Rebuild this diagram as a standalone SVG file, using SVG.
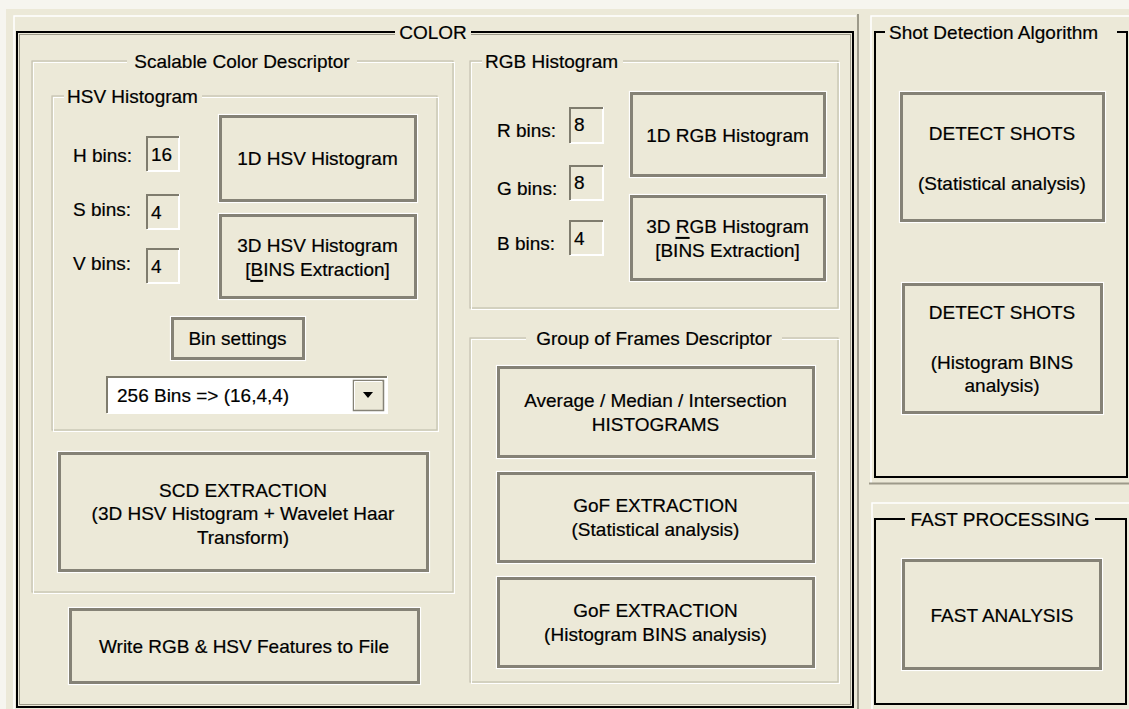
<svg xmlns="http://www.w3.org/2000/svg" width="1129" height="709" viewBox="0 0 1129 709">
<style>
text{font-family:"Liberation Sans",Arial,sans-serif;font-size:19px;fill:#000;stroke:#000;stroke-width:0.2;dominant-baseline:central}
.c{text-anchor:middle}
.tb{fill:#ECE9D8}
.eg{fill:none;stroke:#C4C1B0;stroke-width:1.2}
.ew{fill:none;stroke:#FFFFFF;stroke-width:1}
.bk{fill:none;stroke:#000;stroke-width:2}
.bki{fill:none;stroke:#9D9A8A;stroke-width:1}
.bo{fill:none;stroke:#FFFFFF;stroke-width:1.2}
.bm{fill:#ECE9D8;stroke:#858276;stroke-width:3}
.sd{stroke:#7F7C6E;stroke-width:2;fill:none}
.sl{stroke:#FFFFFF;stroke-width:2;fill:none}
</style>
<rect x="0" y="0" width="1129" height="709" fill="#F6F5EF"/>
<rect x="6" y="9" width="1123" height="700" fill="#ECE9D8"/>
<g id="panels">
<path d="M14 709 V16 H856" stroke="#FFFFFF" stroke-width="1.5" fill="none"/>
<line x1="858" y1="14" x2="858" y2="709" stroke="#9D9A8A" stroke-width="2"/>
<path d="M871 483 V16 H1129" stroke="#FFFFFF" stroke-width="1.5" fill="none"/>
<line x1="869" y1="483.5" x2="1129" y2="483.5" stroke="#9D9A8A" stroke-width="2"/>
<path d="M872 709 V503 H1129" stroke="#FFFFFF" stroke-width="1.5" fill="none"/>
</g>

<g id="color-group">
<rect class="bk" x="17" y="32" width="836" height="675"/>
<rect class="bki" x="19.5" y="34.5" width="831" height="670"/>
<rect class="tb" x="395" y="26" width="76" height="12"/>
<text class="c" x="433" y="32">COLOR</text>
</g>

<g id="scd-group">
<rect class="eg" x="32" y="61" width="421" height="531"/>
<rect class="ew" x="33.5" y="62.5" width="421" height="531"/>
<rect class="tb" x="127" y="56" width="230" height="10"/>
<text class="c" x="242" y="61">Scalable Color Descriptor</text>
</g>

<g id="hsv-group">
<rect class="eg" x="52" y="96" width="385" height="334"/>
<rect class="ew" x="53.5" y="97.5" width="385" height="334"/>
<rect class="tb" x="64" y="91" width="138" height="10"/>
<text x="67" y="96">HSV Histogram</text>
</g>

<g id="h-bins">
<text x="73" y="155">H bins:</text>
<rect class="tb" x="147" y="136" width="32" height="35"/>
<path class="sl" d="M147 171 H179 V136"/>
<path class="sd" d="M147 171 V137 H179"/>
<text x="151" y="154">16</text>
</g>
<g id="s-bins">
<text x="73" y="209">S bins:</text>
<rect class="tb" x="147" y="194" width="32" height="35"/>
<path class="sl" d="M147 229 H179 V194"/>
<path class="sd" d="M147 229 V195 H179"/>
<text x="151" y="212">4</text>
</g>
<g id="v-bins">
<text x="73" y="263">V bins:</text>
<rect class="tb" x="147" y="248" width="32" height="35"/>
<path class="sl" d="M147 283 H179 V248"/>
<path class="sd" d="M147 283 V249 H179"/>
<text x="151" y="266">4</text>
</g>

<g id="btn-1d-hsv">
<rect class="bo" x="218.5" y="114.5" width="199" height="88"/>
<rect class="bm" x="220.5" y="116.5" width="195" height="84"/>
<text class="c" x="317.5" y="158">1D HSV Histogram</text>
</g>
<g id="btn-3d-hsv">
<rect class="bo" x="218.5" y="213.5" width="199" height="86"/>
<rect class="bm" x="220.5" y="215.5" width="195" height="82"/>
<text class="c" x="317.5" y="245">3D HSV Histogram</text>
<text class="c" x="317.5" y="269">[<tspan style="text-decoration:underline">B</tspan>INS Extraction]</text>
</g>
<g id="btn-bin-settings">
<rect class="bo" x="170.5" y="316.5" width="135" height="44"/>
<rect class="bm" x="172.5" y="318.5" width="131" height="40"/>
<text class="c" x="237.5" y="338">Bin settings</text>
</g>
<g id="combo">
<rect x="108" y="377" width="279" height="36" fill="#FFFFFF"/>
<path class="sl" d="M107 413 H387 V376"/>
<path class="sd" d="M107 413 V377 H387"/>
<rect x="353.5" y="380.5" width="30" height="30" fill="#ECE9D8" stroke="#858276" stroke-width="1.5"/>
<path d="M354.5 409.5 V381.5 H382" stroke="#FFFFFF" stroke-width="1" fill="none"/>
<polygon points="363,392 373,392 368,398" fill="#000"/>
<text x="117" y="395">256 Bins =&gt; (16,4,4)</text>
</g>
<g id="btn-scd">
<rect class="bo" x="57.5" y="451.5" width="372" height="121"/>
<rect class="bm" x="59.5" y="453.5" width="368" height="117"/>
<text class="c" x="243" y="490">SCD EXTRACTION</text>
<text class="c" x="243" y="513">(3D HSV Histogram + Wavelet Haar</text>
<text class="c" x="243" y="537">Transform)</text>
</g>
<g id="btn-write">
<rect class="bo" x="68.5" y="607.5" width="352" height="77"/>
<rect class="bm" x="70.5" y="609.5" width="348" height="73"/>
<text class="c" x="244" y="646">Write RGB &amp; HSV Features to File</text>
</g>

<g id="rgb-group">
<rect class="eg" x="470" y="61" width="368" height="247"/>
<rect class="ew" x="471.5" y="62.5" width="368" height="247"/>
<rect class="tb" x="482" y="56" width="141" height="10"/>
<text x="485" y="61">RGB Histogram</text>
</g>
<g id="r-bins">
<text x="497" y="130">R bins:</text>
<rect class="tb" x="570" y="107" width="33" height="36"/>
<path class="sl" d="M570 143 H603 V107"/>
<path class="sd" d="M570 143 V108 H603"/>
<text x="574" y="124">8</text>
</g>
<g id="g-bins">
<text x="497" y="188">G bins:</text>
<rect class="tb" x="570" y="165" width="33" height="35"/>
<path class="sl" d="M570 200 H603 V165"/>
<path class="sd" d="M570 200 V166 H603"/>
<text x="574" y="182">8</text>
</g>
<g id="b-bins">
<text x="497" y="243">B bins:</text>
<rect class="tb" x="570" y="220" width="33" height="35"/>
<path class="sl" d="M570 255 H603 V220"/>
<path class="sd" d="M570 255 V221 H603"/>
<text x="574" y="238">4</text>
</g>
<g id="btn-1d-rgb">
<rect class="bo" x="629.5" y="91.5" width="197" height="86"/>
<rect class="bm" x="631.5" y="93.5" width="193" height="82"/>
<text class="c" x="727.5" y="135">1D RGB Histogram</text>
</g>
<g id="btn-3d-rgb">
<rect class="bo" x="629.5" y="194.5" width="197" height="87"/>
<rect class="bm" x="631.5" y="196.5" width="193" height="83"/>
<text class="c" x="727.5" y="226">3D <tspan style="text-decoration:underline">R</tspan>GB Histogram</text>
<text class="c" x="727.5" y="250">[BINS Extraction]</text>
</g>

<g id="gof-group">
<rect class="eg" x="470" y="338" width="368" height="344"/>
<rect class="ew" x="471.5" y="339.5" width="368" height="344"/>
<rect class="tb" x="526" y="333" width="256" height="10"/>
<text class="c" x="654" y="338">Group of Frames Descriptor</text>
</g>
<g id="btn-average">
<rect class="bo" x="496.5" y="365.5" width="319" height="93"/>
<rect class="bm" x="498.5" y="367.5" width="315" height="89"/>
<text class="c" x="655.5" y="400">Average / Median / Intersection</text>
<text class="c" x="655.5" y="424">HISTOGRAMS</text>
</g>
<g id="btn-gof-stat">
<rect class="bo" x="496.5" y="471.5" width="319" height="92"/>
<rect class="bm" x="498.5" y="473.5" width="315" height="88"/>
<text class="c" x="655.5" y="505">GoF EXTRACTION</text>
<text class="c" x="655.5" y="529">(Statistical analysis)</text>
</g>
<g id="btn-gof-bins">
<rect class="bo" x="496.5" y="576.5" width="319" height="92"/>
<rect class="bm" x="498.5" y="578.5" width="315" height="88"/>
<text class="c" x="655.5" y="610">GoF EXTRACTION</text>
<text class="c" x="655.5" y="634">(Histogram BINS analysis)</text>
</g>

<g id="shot-group">
<rect class="bk" x="875" y="32" width="252" height="445"/>
<rect class="tb" x="885" y="26" width="232" height="12"/>
<text x="889" y="32">Shot Detection Algorithm</text>
</g>
<g id="btn-detect-stat">
<rect class="bo" x="899.5" y="91.5" width="206" height="131"/>
<rect class="bm" x="901.5" y="93.5" width="202" height="127"/>
<text class="c" x="1002" y="133">DETECT SHOTS</text>
<text class="c" x="1002" y="183">(Statistical analysis)</text>
</g>
<g id="btn-detect-bins">
<rect class="bo" x="901.5" y="282.5" width="202" height="132"/>
<rect class="bm" x="903.5" y="284.5" width="198" height="128"/>
<text class="c" x="1002" y="312">DETECT SHOTS</text>
<text class="c" x="1002" y="362">(Histogram BINS</text>
<text class="c" x="1002" y="385">analysis)</text>
</g>

<g id="fast-group">
<rect class="bk" x="875" y="519" width="251" height="185"/>
<rect class="tb" x="905" y="513" width="190" height="12"/>
<text class="c" x="1000" y="519">FAST PROCESSING</text>
</g>
<g id="btn-fast">
<rect class="bo" x="901.5" y="558.5" width="201" height="112"/>
<rect class="bm" x="903.5" y="560.5" width="197" height="108"/>
<text class="c" x="1002" y="615">FAST ANALYSIS</text>
</g>
<g id="connectors"/>
</svg>
